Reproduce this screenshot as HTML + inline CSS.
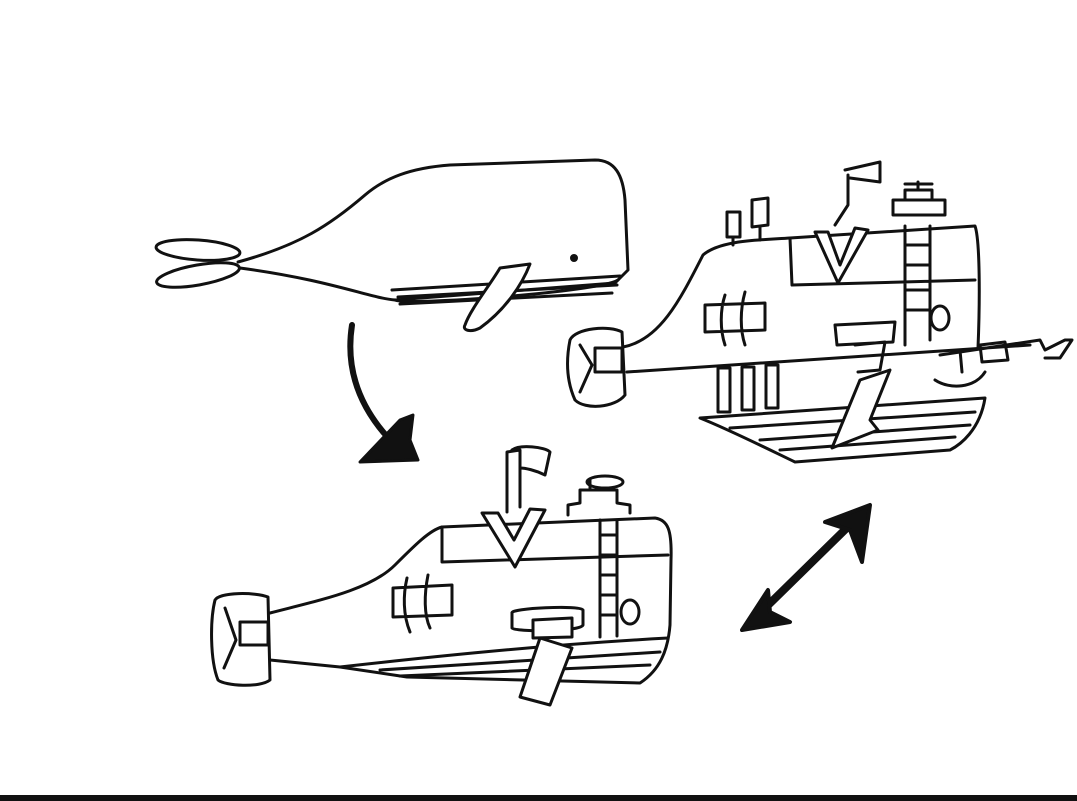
<!DOCTYPE html>
<html><head><meta charset="utf-8"><style>html,body{margin:0;padding:0;background:#fff}svg{display:block}</style></head>
<body>
<svg width="1077" height="801" viewBox="0 0 1077 801" xmlns="http://www.w3.org/2000/svg" fill="none" stroke="#111" stroke-width="3" stroke-linecap="round" stroke-linejoin="round">
<rect x="0" y="795" width="1077" height="6" fill="#111" stroke="none"/>
<!-- whale -->
<ellipse cx="198" cy="250" rx="42" ry="10" transform="rotate(4 198 250)"/>
<ellipse cx="198" cy="275" rx="42" ry="10" transform="rotate(-10 198 275)"/>
<path d="M238 262 C300 245 330 225 365 195 C385 178 410 168 450 165 L595 160 C615 160 623 175 625 200 L628 270 L615 283 L395 300 C370 298 330 280 240 268"/>
<path d="M395 300 C405 306 600 292 618 280"/>
<path d="M392 290 L620 276 M398 297 L617 285 M400 304 L612 293"/>
<circle cx="574" cy="258" r="2.5" fill="#111"/>
<path d="M465 325 C470 310 490 285 500 268 L530 264 C522 285 505 310 480 328 C470 333 462 330 465 325Z" fill="#fff"/>
<!-- arrow 1 -->
<path d="M352 325 C345 370 360 410 395 445" stroke-width="6"/>
<path d="M360 462 L400 420 L413 415 L410 440 L418 460 Z" fill="#111"/>
<!-- double arrow -->
<path d="M755 618 L860 515" stroke-width="8"/>
<path d="M742 630 L768 590 L770 612 L790 622 Z" fill="#111" stroke-width="4"/>
<path d="M870 505 L862 562 L850 530 L825 522 Z" fill="#111" stroke-width="4"/>
<!-- sub bottom -->
<path d="M270 613 C320 600 370 590 395 565 C415 545 430 530 442 527 L655 518 C668 520 672 530 671 560 L670 625 C668 650 660 670 640 683 L407 677 L340 667 L270 660"/>
<path d="M442 527 L442 562 L668 555"/>
<path d="M340 667 C420 658 540 645 668 638"/>
<path d="M380 670 L660 652 M400 676 L650 665"/>
<path d="M600 520 L600 637 M617 520 L617 636"/>
<path d="M600 535 L617 535 M600 555 L617 555 M600 575 L617 575 M600 595 L617 595 M600 615 L617 615"/>
<path d="M482 513 L515 567 L545 510 L530 509 L514 540 L498 513 Z" fill="#fff"/>
<path d="M507 512 L507 452 L520 450 L520 507 M512 450 C520 444 545 447 550 452 L545 475 C535 470 525 468 520 468"/>
<path d="M568 515 L568 505 L580 503 L580 490 L617 490 L617 503 L630 505 L630 513 M590 488 L590 480 M605 482 m-18 0 a18 6 0 1 0 36 0 a18 6 0 1 0 -36 0"/>
<path d="M393 588 L452 585 L452 615 L393 617 Z M407 578 C403 595 403 615 410 632 M428 575 C424 595 424 615 430 628"/>
<path d="M512 613 C510 608 580 605 583 610 L583 625 C580 632 515 632 512 628 Z" fill="#fff"/>
<path d="M533 620 L572 618 L572 637 L533 638 Z M540 638 L520 697 L550 705 L572 648 Z" fill="#fff"/>
<ellipse cx="630" cy="612" rx="9" ry="12"/>
<path d="M215 600 C220 592 255 592 268 597 L270 680 C260 688 225 686 218 680 C210 660 210 620 215 600Z"/>
<path d="M240 622 L268 622 L268 645 L240 645 Z M225 608 L236 640 L224 668"/>
<!-- sub top -->
<path d="M623 347 C660 340 680 300 703 255 C720 240 760 240 790 238 L975 226 C980 240 980 300 978 348"/>
<path d="M790 238 L792 285 L975 280 M905 226 L905 345 M930 226 L930 340"/>
<path d="M905 245 L930 245 M905 265 L930 265 M905 290 L930 290 M905 310 L930 310"/>
<path d="M815 232 L838 283 L868 230 L855 228 L840 265 L828 232 Z" fill="#fff"/>
<path d="M835 225 L848 205 L848 175 M845 170 L880 162 L880 182 L850 178"/>
<path d="M893 215 L893 200 L945 200 L945 215 Z M905 200 L905 190 L932 190 L932 200 M918 190 L918 182 M905 184 L932 184"/>
<path d="M727 212 L740 212 L740 237 L727 237 Z M752 200 L768 198 L768 225 L752 227 Z M733 237 L733 245 M760 227 L760 240"/>
<path d="M705 305 L765 303 L765 330 L705 332 Z M725 295 C720 310 720 330 725 345 M745 292 C740 310 740 330 745 345"/>
<path d="M835 325 L895 322 L893 342 L837 345 Z M855 345 L885 342 L880 370 L858 372"/>
<ellipse cx="940" cy="318" rx="9" ry="12"/>
<path d="M627 372 L1030 345 M940 355 L1040 340 L1045 350 L1065 340 L1072 340 L1060 358 L1045 358 M960 350 L962 372 M980 345 L1005 342 L1008 360 L982 362 Z"/>
<path d="M935 380 C950 390 975 388 985 372"/>
<path d="M700 418 L985 398 C980 430 960 445 950 450 L795 462 C770 450 730 430 700 418Z"/>
<path d="M730 428 L975 412 M760 440 L970 425 M780 450 L955 437"/>
<path d="M718 368 L730 368 L730 412 L718 412 Z M742 367 L754 367 L754 410 L742 410 Z M766 365 L778 365 L778 408 L766 408 Z"/>
<path d="M832 448 L860 380 L890 370 L870 420 L878 430 Z" fill="#fff"/>
<path d="M570 340 C575 328 610 325 622 332 L625 395 C615 408 585 410 575 400 C566 380 566 360 570 340Z"/>
<path d="M595 348 L622 348 L622 372 L595 372 Z M580 345 L592 365 L580 392"/>
</svg>
</body></html>
